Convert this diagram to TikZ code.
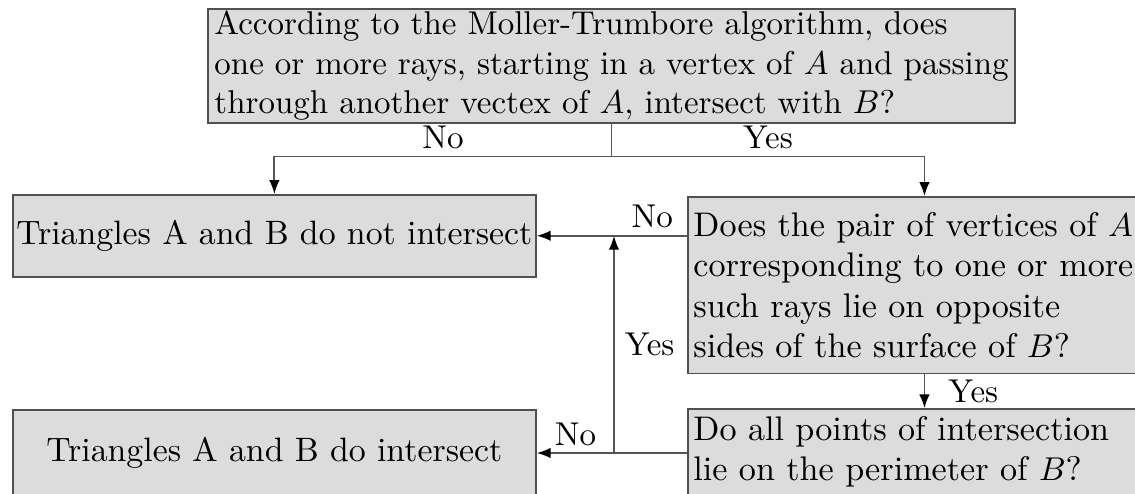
\documentclass[tikz,border=0pt]{standalone}
\usetikzlibrary{arrows.meta,calc}
\definecolor{boxfill}{RGB}{220,220,220}
\definecolor{boxline}{RGB}{80,80,80}
\definecolor{connline}{RGB}{85,85,85}
\begin{document}
\begin{tikzpicture}[x=0.303pt,y=-0.303pt,
  box/.style={draw=boxline, fill=boxfill, line width=0.5pt, rectangle},
  conn/.style={draw=connline, line width=0.55pt},
  arr/.style={conn, -{Latex[length=4.2pt,width=3.2pt,color=black]}},
  lbl/.style={inner sep=2pt}]
\useasboundingbox (0,0) rectangle (1135,493);
\clip (0,0) rectangle (1135,493);
% boxes
\node[box, anchor=north west, align=left, inner xsep=2pt, inner ysep=0.5pt, minimum height=34.5pt] (q1) at (207,8)
  {According to the Moller-Trumbore algorithm, does\\
   one or more rays, starting in a vertex of $A$ and passing\\
   through another vectex of $A$, intersect with $B$?};
\node[box, anchor=north west, minimum width=158.5pt, minimum height=24.8pt, inner xsep=1pt, font=\fontsize{10.25}{12.3}\selectfont] (lb1) at (12,194)
  {Triangles A and B do not intersect};
\node[box, anchor=north west, text width=140pt, align=left, inner xsep=1.7pt, inner ysep=1.5pt, minimum height=53.5pt, font=\fontsize{10.35}{12.2}\selectfont] (rb1) at (687,196)
  {Does the pair of vertices of $A$\\
   corresponding to one or more\\
   such rays lie on opposite\\
   sides of the surface of $B$?};
\node[box, anchor=west, text width=140pt, align=left, inner xsep=1.7pt, inner ysep=1.5pt, minimum height=26pt, font=\fontsize{10.35}{12.2}\selectfont] (rb2) at (687,452)
  {Do all points of intersection\\
   lie on the perimeter of $B$?};
\node[box, anchor=west, minimum width=158.5pt, minimum height=26pt, inner xsep=1pt, font=\fontsize{10.25}{12.3}\selectfont] (lb2) at (12,453)
  {Triangles A and B do intersect};
% top split
\coordinate (jt) at ($(q1.south)+(0,33)$);
\draw[conn] (q1.south) -- (jt);
\draw[arr] (jt) -- node[lbl,above]{No} (jt -| lb1.north) -- (lb1.north);
\draw[arr] (jt) -- node[lbl,above]{Yes} (jt -| rb1.north) -- (rb1.north);
% right column
\draw[arr] (rb1.south) -- node[lbl,right,inner xsep=7pt]{Yes} (rb2.north);
\draw[arr] (rb1.west |- lb1.east) node[lbl,above left,inner xsep=4pt]{No} -- (lb1.east);
% bottom loop
\coordinate (jbx) at (614,0);
\coordinate (jb) at (jbx |- lb2.east);
\coordinate (ju) at (jbx |- lb1.east);
\draw[conn] (rb2.west |- lb2.east) -- (jb);
\draw[arr] (jb) -- node[lbl,above]{No} (lb2.east);
\draw[arr] (jb) -- node[lbl,right,inner xsep=3pt]{Yes} (ju);
\end{tikzpicture}
\end{document}
